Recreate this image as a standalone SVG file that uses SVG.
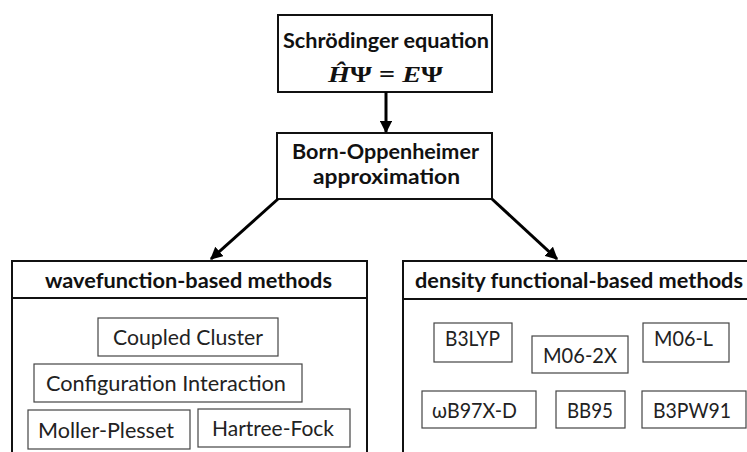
<svg xmlns="http://www.w3.org/2000/svg" width="747" height="452" viewBox="0 0 747 452">
  <style>
    .frame { fill: #ffffff; stroke: #111111; stroke-width: 2; }
    .item { fill: #ffffff; stroke: #444444; stroke-width: 1.2; }
    .bold { font-family: Lato, "Open Sans", sans-serif; font-weight: bold; font-size: 21.5px; fill: #111111; }
    .reg { font-family: Lato, "Open Sans", sans-serif; font-size: 22px; fill: #222222; }
    .math { font-family: "Liberation Serif", "DejaVu Serif", serif; font-weight: bold; font-size: 23px; fill: #111111; }
    .link { stroke: #000000; stroke-width: 3; fill: none; }
  </style>
  <defs>
    <marker id="head" viewBox="0 0 10 10" refX="9" refY="5" markerWidth="4.2" markerHeight="4.2" orient="auto" markerUnits="strokeWidth">
      <path d="M0,0 L10,5 L0,10 z" fill="#000000"/>
    </marker>
  </defs>

  <!-- top: governing equation -->
  <g id="schrodinger">
    <rect class="frame" x="278" y="15" width="214" height="77"/>
    <text class="bold" x="283" y="48" textLength="206" lengthAdjust="spacingAndGlyphs">Schrödinger equation</text>
    <text class="math" x="328" y="82" textLength="115" lengthAdjust="spacingAndGlyphs"><tspan font-style="italic">Ĥ</tspan>Ψ = <tspan font-style="italic">E</tspan>Ψ</text>
  </g>

  <!-- approximation -->
  <g id="born-oppenheimer">
    <rect class="frame" x="277" y="133" width="215" height="66"/>
    <text class="bold" x="292" y="159" textLength="187" lengthAdjust="spacingAndGlyphs">Born-Oppenheimer</text>
    <text class="bold" x="313" y="184" textLength="147" lengthAdjust="spacingAndGlyphs">approximation</text>
  </g>

  <!-- wavefunction family -->
  <g id="wavefunction-methods">
    <path class="frame" d="M12,460 L12,261 L367,261 L367,460" />
    <line x1="12" y1="298" x2="367" y2="298" stroke="#111111" stroke-width="2"/>
    <text class="bold" x="45" y="288" textLength="287" lengthAdjust="spacingAndGlyphs">wavefunction-based methods</text>
  </g>
  <g id="coupled-cluster">
    <rect class="item" x="98" y="318" width="180" height="38"/>
    <text class="reg" x="113" y="345" textLength="150" lengthAdjust="spacingAndGlyphs">Coupled Cluster</text>
  </g>
  <g id="configuration-interaction">
    <rect class="item" x="34" y="364" width="268" height="38"/>
    <text class="reg" x="46" y="391" textLength="240" lengthAdjust="spacingAndGlyphs">Configuration Interaction</text>
  </g>
  <g id="moller-plesset">
    <rect class="item" x="28" y="410" width="162" height="39"/>
    <text class="reg" x="38" y="438" textLength="136" lengthAdjust="spacingAndGlyphs">Moller-Plesset</text>
  </g>
  <g id="hartree-fock">
    <rect class="item" x="198" y="409" width="152" height="38"/>
    <text class="reg" x="212" y="436" textLength="122" lengthAdjust="spacingAndGlyphs">Hartree-Fock</text>
  </g>

  <!-- density functional family -->
  <g id="dft-methods">
    <path class="frame" d="M403,460 L403,261 L752,261" />
    <line x1="403" y1="299" x2="752" y2="299" stroke="#111111" stroke-width="2"/>
    <text class="bold" x="415" y="288" textLength="328" lengthAdjust="spacingAndGlyphs">density functional-based methods</text>
  </g>
  <g id="b3lyp">
    <rect class="item" x="434" y="323" width="78" height="39"/>
    <text class="reg" x="445" y="346" textLength="55" lengthAdjust="spacingAndGlyphs">B3LYP</text>
  </g>
  <g id="m06-2x">
    <rect class="item" x="532" y="336" width="96" height="37"/>
    <text class="reg" x="543" y="363" textLength="74" lengthAdjust="spacingAndGlyphs">M06-2X</text>
  </g>
  <g id="m06-l">
    <rect class="item" x="643" y="323" width="86" height="39"/>
    <text class="reg" x="654" y="346" textLength="59" lengthAdjust="spacingAndGlyphs">M06-L</text>
  </g>
  <g id="wb97x-d">
    <rect class="item" x="422" y="391" width="114" height="37"/>
    <text class="reg" x="432" y="418" textLength="85" lengthAdjust="spacingAndGlyphs">ωB97X-D</text>
  </g>
  <g id="bb95">
    <rect class="item" x="556" y="391" width="69" height="37"/>
    <text class="reg" x="567" y="418" textLength="46" lengthAdjust="spacingAndGlyphs">BB95</text>
  </g>
  <g id="b3pw91">
    <rect class="item" x="642" y="391" width="104" height="37"/>
    <text class="reg" x="653" y="418" textLength="78" lengthAdjust="spacingAndGlyphs">B3PW91</text>
  </g>

  <!-- connectors -->
  <g id="connectors">
    <line class="link" x1="386" y1="92" x2="386" y2="132" marker-end="url(#head)"/>
    <line class="link" x1="278" y1="199" x2="211" y2="259" marker-end="url(#head)"/>
    <line class="link" x1="492" y1="199" x2="557" y2="259" marker-end="url(#head)"/>
  </g>
</svg>
